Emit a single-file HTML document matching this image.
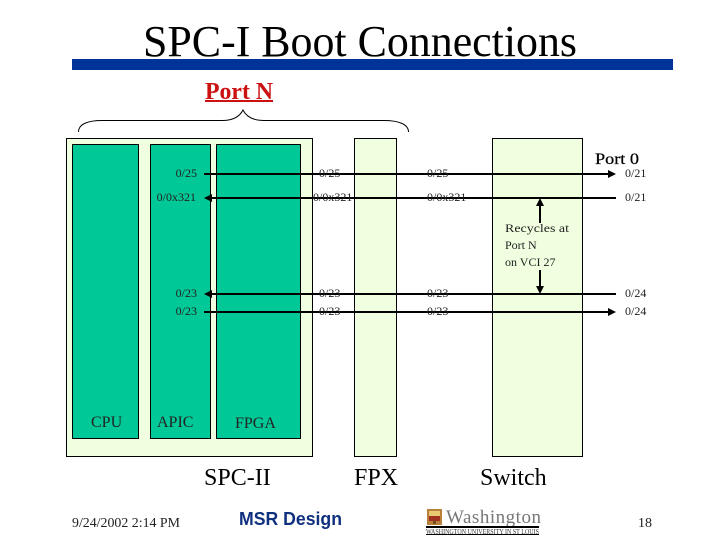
<!DOCTYPE html>
<html>
<head>
<meta charset="utf-8">
<style>
html,body{margin:0;padding:0;background:#fff;}
svg{display:block;}
text{font-family:"Liberation Serif",serif;fill:#000;}
.s{font-size:12px;fill:#222;}
.b{font-size:16px;fill:#222;}
.l{font-size:24px;}
</style>
</head>
<body>
<svg width="720" height="540" viewBox="0 0 720 540" xmlns="http://www.w3.org/2000/svg">
<rect width="720" height="540" fill="#fff"/>
<text x="360" y="56" text-anchor="middle" font-size="44" textLength="434" lengthAdjust="spacingAndGlyphs">SPC-I Boot Connections</text>
<rect x="72" y="59" width="601" height="11" fill="#003399"/>
<text x="205" y="99" font-size="24" font-weight="bold" style="fill:#cc1111" textLength="68" lengthAdjust="spacingAndGlyphs">Port N</text>
<rect x="205" y="100" width="68" height="2" fill="#cc1111"/>

<path d="M78.500 132 C78.500 124 88 120.500 102 120.500 L222 120.500 C234 120.500 240 116 243 110 C246 116 252 120.500 264 120.500 L384 120.500 C398 120.500 408.500 124 408.500 132" fill="none" stroke="#000" stroke-width="1"/>

<rect x="66.500" y="138.500" width="246" height="318" fill="#efffdf" stroke="#000"/>
<rect x="72.500" y="144.500" width="66" height="294" fill="#00c896" stroke="#000"/>
<rect x="150.500" y="144.500" width="60" height="294" fill="#00c896" stroke="#000"/>
<rect x="216.500" y="144.500" width="84" height="294" fill="#00c896" stroke="#000"/>
<rect x="354.500" y="138.500" width="42" height="318" fill="#efffdf" stroke="#000"/>
<rect x="492.500" y="138.500" width="90" height="318" fill="#efffdf" stroke="#000"/>

<g stroke="#000" stroke-width="2">
<line x1="204" y1="174" x2="610" y2="174"/>
<line x1="210" y1="198" x2="616" y2="198"/>
<line x1="210" y1="294" x2="616" y2="294"/>
<line x1="204" y1="312" x2="610" y2="312"/>
<line x1="540" y1="204" x2="540" y2="223"/>
<line x1="540" y1="270" x2="540" y2="288"/>
</g>
<g fill="#000">
<path d="M616 174 L608 170 L608 178 Z"/>
<path d="M616 312 L608 308 L608 316 Z"/>
<path d="M204 198 L212 194 L212 202 Z"/>
<path d="M204 294 L212 290 L212 298 Z"/>
<path d="M540 198 L536 206 L544 206 Z"/>
<path d="M540 294 L536 286 L544 286 Z"/>
</g>

<text class="s" x="197" y="177" text-anchor="end">0/25</text>
<text class="s" x="196" y="201" text-anchor="end">0/0x321</text>
<text class="s" x="197" y="297" text-anchor="end">0/23</text>
<text class="s" x="197" y="315" text-anchor="end">0/23</text>

<text class="s" x="319" y="177">0/25</text>
<text class="s" x="313" y="201">0/0x321</text>
<text class="s" x="319" y="297">0/23</text>
<text class="s" x="319" y="315">0/23</text>

<text class="s" x="427" y="177">0/25</text>
<text class="s" x="427" y="201">0/0x321</text>
<text class="s" x="427" y="297">0/23</text>
<text class="s" x="427" y="315">0/23</text>

<text class="s" x="625" y="177">0/21</text>
<text class="s" x="625" y="201">0/21</text>
<text class="s" x="625" y="297">0/24</text>
<text class="s" x="625" y="315">0/24</text>

<text class="s" x="505" y="232" textLength="64" lengthAdjust="spacingAndGlyphs">Recycles at</text>
<text class="s" x="505" y="249">Port N</text>
<text class="s" x="505" y="266">on VCI 27</text>

<text x="595" y="164" font-size="16" textLength="44" lengthAdjust="spacingAndGlyphs" stroke="#000" stroke-width="0.25">Port 0</text>

<text class="b" x="91" y="427">CPU</text>
<text class="b" x="157" y="427">APIC</text>
<text class="b" x="235" y="428">FPGA</text>

<text class="l" x="204" y="485">SPC-II</text>
<text class="l" x="354" y="485">FPX</text>
<text class="l" x="480" y="485">Switch</text>

<text x="72" y="527" font-size="14" style="fill:#222" textLength="108" lengthAdjust="spacingAndGlyphs">9/24/2002 2:14 PM</text>
<text x="239" y="525" font-size="18" font-weight="bold" textLength="103" lengthAdjust="spacingAndGlyphs" style="font-family:'Liberation Sans',sans-serif;fill:#0f2f7f">MSR Design</text>

<rect x="427" y="509" width="15" height="16" fill="#b8803a"/>
<rect x="429" y="511" width="11" height="5" fill="#e8c870"/>
<rect x="429" y="516" width="11" height="5" fill="#a03020"/>
<rect x="433" y="521" width="3" height="3" fill="#705020"/>
<text x="446" y="523" font-size="19" style="fill:#777" textLength="95" lengthAdjust="spacing">Washington</text>
<rect x="426" y="526" width="113" height="2" fill="#000"/>
<text x="426" y="534" font-size="7" style="fill:#333" textLength="113" lengthAdjust="spacingAndGlyphs">WASHINGTON UNIVERSITY IN ST LOUIS</text>
<rect x="426" y="534" width="113" height="1" fill="#000"/>

<text x="638" y="527" font-size="14" style="fill:#222">18</text>
</svg>
</body>
</html>
